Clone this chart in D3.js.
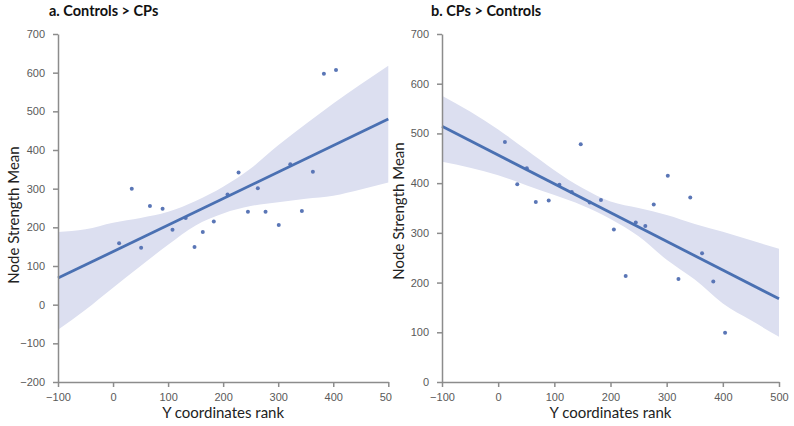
<!DOCTYPE html>
<html lang="en">
<head>
  <meta charset="UTF-8">
  <title>Node Strength Mean vs Y coordinates rank</title>
  <script src="https://d3js.org/d3.v7.min.js"></script>
  <style>
    body, html {
      margin: 0;
      padding: 0;
      background: #fff;
    }
    svg {
      display: block;
    }
    .title {
      font-family: Lato, "Open Sans", sans-serif;
      font-weight: bold;
      font-size: 14.5px;
      fill: #111;
    }
    .axis-label {
      font-family: Lato, "Open Sans", sans-serif;
      font-size: 15px;
      fill: #222;
      text-anchor: middle;
    }
    .axis text {
      font-family: "Liberation Sans", Arial, sans-serif;
      font-size: 11px;
      fill: #5a5a5a;
    }
    .axis path, .axis line {
      stroke: #8c8c8c;
      stroke-width: 1.5px;
    }
  </style>
</head>
<body>
  <div id="chart"></div>

  <script>
    // Panel a: Controls > CPs
    const rankA = [11, 34, 51, 67, 90, 108, 132, 148, 163, 183, 208, 228, 245, 263, 277, 301, 322, 343, 363, 383, 405];
    const strengthA = [159, 300, 147, 255, 248, 194, 224, 149, 188, 215, 285, 342, 240, 301, 240, 206, 363, 242, 344, 597, 607];

    // Panel b: CPs > Controls
    const rankB = [12, 34, 51, 67, 90, 109, 131, 147, 163, 183, 206, 227, 245, 262, 277, 302, 321, 342, 363, 383, 404];
    const strengthB = [483, 398, 430, 362, 365, 397, 382, 478, 361, 366, 307, 213, 321, 314, 357, 415, 207, 371, 259, 202, 99];

    // 95% confidence band edges
    const bandX = [-100, -50, 0, 50, 100, 150, 200, 250, 300, 350, 400, 450, 500];
    const bandLowA = [-65, -13, 44, 100, 155, 205, 236, 255, 265, 274, 282, 298, 316];
    const bandHighA = [188, 195, 212, 224, 240, 268, 305, 352, 412, 467, 520, 570, 618];
    const bandLowB = [443, 431, 416, 396, 376, 355, 328, 293, 246, 206, 158, 124, 91];
    const bandHighB = [576, 544, 508, 467, 426, 390, 363, 350, 336, 318, 302, 285, 268];

    // tick labels
    const xTicks = [-100, 0, 100, 200, 300, 400, 500];
    const yTicksA = [-200, -100, 0, 100, 200, 300, 400, 500, 600, 700];
    const yTicksB = [0, 100, 200, 300, 400, 500, 600, 700];

    const blue = "#4a70b2";
    const bandFill = "#dcdff0";

    const svg = d3.select("#chart")
      .append("svg")
      .attr("width", 794)
      .attr("height", 426);

    // left panel is cut off a bit at the right, like in the figure
    svg.append("clipPath")
      .attr("id", "clipA")
      .append("rect")
      .attr("x", 0).attr("y", 0)
      .attr("width", 392).attr("height", 426);

    function linreg(xs, ys) {
      const mx = d3.mean(xs), my = d3.mean(ys);
      let sxy = 0, sxx = 0;
      xs.forEach((x, i) => {
        sxy += (x - mx) * (ys[i] - my);
        sxx += (x - mx) * (x - mx);
      });
      const slope = sxy / sxx;
      return x => my + slope * (x - mx);
    }

    function createPanel(opts) {
      const g = svg.append("g");
      if (opts.clip) g.attr("clip-path", `url(#${opts.clip})`);

      const x = d3.scaleLinear().domain([-100, 500]).range(opts.xRange);
      const y = d3.scaleLinear().domain(opts.yDomain).range([382, 34]);

      // confidence band
      const area = d3.area()
        .x((d, i) => x(bandX[i]))
        .y0((d, i) => y(opts.bandLow[i]))
        .y1((d, i) => y(opts.bandHigh[i]))
        .curve(d3.curveMonotoneX);

      g.append("path")
        .datum(bandX)
        .attr("d", area)
        .attr("fill", bandFill);

      // scatter points
      g.selectAll(".dot")
        .data(opts.xs)
        .enter().append("circle")
        .attr("class", "dot")
        .attr("cx", d => x(d))
        .attr("cy", (d, i) => y(opts.ys[i]))
        .attr("r", 2)
        .attr("fill", "#5a76b6");

      // regression line
      const fit = linreg(opts.xs, opts.ys);
      g.append("line")
        .attr("x1", x(-100))
        .attr("y1", y(fit(-100)))
        .attr("x2", x(500))
        .attr("y2", y(fit(500)))
        .attr("stroke", blue)
        .attr("stroke-width", 2.8);

      // axes
      g.append("g")
        .attr("class", "axis")
        .attr("transform", "translate(0,382)")
        .call(d3.axisBottom(x).tickValues(xTicks).tickSize(5).tickPadding(6).tickSizeOuter(0));

      g.append("g")
        .attr("class", "axis")
        .attr("transform", `translate(${opts.xRange[0]},0)`)
        .call(d3.axisLeft(y).tickValues(opts.yTicks).tickSize(5).tickPadding(8).tickSizeOuter(0));

      // titles and labels
      g.append("text")
        .attr("class", "title")
        .attr("x", opts.titleX)
        .attr("y", 16)
        .text(opts.title);

      g.append("text")
        .attr("class", "axis-label")
        .attr("x", (opts.xRange[0] + opts.xRange[1]) / 2)
        .attr("y", 418)
        .text("Y coordinates rank");

      g.append("text")
        .attr("class", "axis-label")
        .attr("transform", `translate(${opts.yLabelX},${opts.yLabelY}) rotate(-90)`)
        .text("Node Strength Mean");
    }

    createPanel({
      xs: rankA, ys: strengthA,
      bandLow: bandLowA, bandHigh: bandHighA,
      xRange: [58, 388.3],
      yDomain: [-200, 700],
      yTicks: yTicksA,
      title: "a. Controls > CPs",
      titleX: 49,
      yLabelX: 19,
      yLabelY: 215,
      clip: "clipA"
    });

    createPanel({
      xs: rankB, ys: strengthB,
      bandLow: bandLowB, bandHigh: bandHighB,
      xRange: [442, 779],
      yDomain: [0, 700],
      yTicks: yTicksB,
      title: "b. CPs > Controls",
      titleX: 431,
      yLabelX: 404,
      yLabelY: 211
    });
  </script>
</body>
</html>
